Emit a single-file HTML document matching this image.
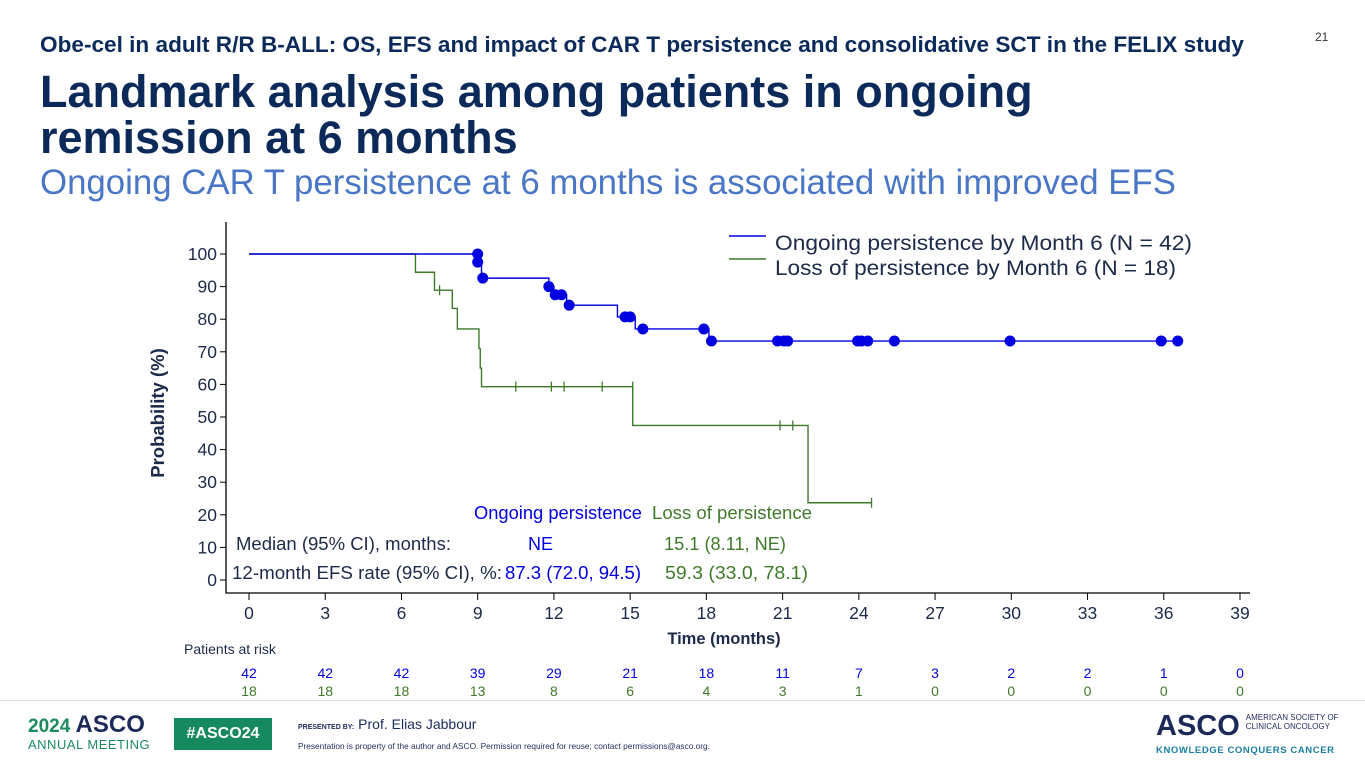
<!DOCTYPE html>
<html><head><meta charset="utf-8">
<style>
body{margin:0;width:1365px;height:768px;overflow:hidden;background:#fff;font-family:"Liberation Sans",sans-serif;position:relative}
.abs{position:absolute;white-space:nowrap}
</style></head><body>
<div class="abs" style="left:40px;top:32px;font-size:22.6px;font-weight:bold;color:#0b2a5a">Obe-cel in adult R/R B-ALL: OS, EFS and impact of CAR T persistence and consolidative SCT in the FELIX study</div>
<div class="abs" style="left:1315px;top:30px;font-size:12px;color:#333">21</div>
<div class="abs" style="left:40px;top:69px;font-size:45px;font-weight:bold;color:#0b2a5a;line-height:46px">Landmark analysis among patients in ongoing<br>remission at 6 months</div>
<div class="abs" style="left:40px;top:163px;font-size:34.8px;color:#4a76c6">Ongoing CAR T persistence at 6 months is associated with improved EFS</div>

<svg id="chart" width="1365" height="700" style="position:absolute;left:0;top:0" font-family="Liberation Sans, sans-serif"></svg>

<div class="abs" style="left:0;top:700px;width:1365px;height:1px;background:#ddd"></div>
<div class="abs" style="left:28px;top:713px;line-height:1">
 <span style="font-size:19px;font-weight:bold;color:#1d8a5e">2024 </span><span style="font-size:24px;font-weight:bold;color:#1c2a5a">ASCO</span><br>
 <span style="font-size:13px;color:#1d8a5e;letter-spacing:0.5px">ANNUAL MEETING</span></div>
<div class="abs" style="left:174px;top:718px;width:98px;height:32px;background:#168a5e;color:#fff;font-weight:bold;font-size:16px;line-height:32px;text-align:center">#ASCO24</div>
<div class="abs" style="left:298px;top:716px;font-size:14px;color:#1c2a5a"><span style="font-size:7px;font-weight:bold">PRESENTED BY:</span> Prof. Elias Jabbour</div>
<div class="abs" style="left:298px;top:741px;font-size:8.3px;color:#1c2a5a">Presentation is property of the author and ASCO. Permission required for reuse; contact permissions@asco.org.</div>
<div class="abs" style="left:1156px;top:712px;line-height:1">
 <span style="font-size:29px;font-weight:bold;color:#1c2a5a">ASCO</span><span style="display:inline-block;font-size:8px;color:#1c2a5a;margin-left:6px;vertical-align:6px;line-height:9px">AMERICAN SOCIETY OF<br>CLINICAL ONCOLOGY</span><br>
 <span style="font-size:9.5px;font-weight:bold;color:#1a7fa0;letter-spacing:0.6px">KNOWLEDGE CONQUERS CANCER</span></div>

<script>
// ---- data ----
const xTicks=[0,3,6,9,12,15,18,21,24,27,30,33,36,39];
const yTicks=[0,10,20,30,40,50,60,70,80,90,100];
const blueSteps=[[0,100],[9.05,97.5],[9.15,92.6],[11.8,90],[12.0,87.5],[12.5,84.3],[14.5,80.7],[15.2,77],[17.9,77],[18.1,73.3],[36.7,73.3]];
const blueCensorT=[9,9,9.2,11.8,12.05,12.3,12.6,14.8,15,15.5,17.9,18.2,20.8,21.05,21.2,23.95,24.1,24.35,25.4,29.95,35.9,36.55];
const blueCensorS=[100,97.5,92.6,90,87.5,87.5,84.3,80.7,80.7,77,77,73.3,73.3,73.3,73.3,73.3,73.3,73.3,73.3,73.3,73.3,73.3];
const greenSteps=[[0,100],[6.55,94.4],[7.3,88.9],[8.0,83.3],[8.2,77],[9.05,71],[9.1,65],[9.15,59.3],[15.1,47.4],[22.0,23.7],[24.5,23.7]];
const greenCensorT=[7.5,10.5,11.9,12.4,13.9,15.1,20.9,21.4,24.5];
const greenCensorS=[88.9,59.3,59.3,59.3,59.3,59.3,47.4,47.4,23.7];
const riskTimes=[0,3,6,9,12,15,18,21,24,27,30,33,36,39];
const riskBlue=[42,42,42,39,29,21,18,11,7,3,2,2,1,0];
const riskGreen=[18,18,18,13,8,6,4,3,1,0,0,0,0,0];

const svg=document.getElementById('chart');
const NS='http://www.w3.org/2000/svg';
const X=t=>249+t*(991/39);
const Y=s=>580-s*3.26;
const BLUE='#0000e0',GREEN='#3f7a2a',NAVY='#1c2a4a';
function mk(tag,a){const e=document.createElementNS(NS,tag);for(const k in a)e.setAttribute(k,a[k]);svg.appendChild(e);return e;}

let f=mk('path',{d:'M226,222 V593 H1250',fill:'none',stroke:'#000','stroke-width':1.3});



yTicks.forEach(v=>{
 let l=mk('line',{x1:220,x2:226,y1:Y(v),y2:Y(v),stroke:'#000'});
 
 
 let t=mk('text',{x:217,y:Y(v)+6,'text-anchor':'end','font-size':17.5,fill:NAVY});
 t.textContent=v;
 
 
});
xTicks.forEach(v=>{
 let l=mk('line',{x1:X(v),x2:X(v),y1:593,y2:600,stroke:'#000'});
 
 
 let t=mk('text',{x:X(v),y:619,'text-anchor':'middle','font-size':17.5,fill:NAVY});
 t.textContent=v;
 
 
});
let yt=mk('text',{x:164,y:413,'text-anchor':'middle','font-size':18.5,'font-weight':'bold',fill:NAVY,transform:'rotate(-90 164 413)'});
yt.textContent='Probability (%)';


let xt=mk('text',{x:724,y:644,'text-anchor':'middle','font-size':16.5,'font-weight':'bold',fill:NAVY});
xt.textContent='Time (months)';



function stepPath(st){let d='M'+X(st[0][0])+','+Y(st[0][1]);for(let i=1;i<st.length;i++){d+=' H'+X(st[i][0])+' V'+Y(st[i][1]);}return d;}
let g=mk('path',{d:stepPath(greenSteps),fill:'none',stroke:GREEN,'stroke-width':1.4});


greenCensorT.forEach((t,i)=>{
 let c=mk('line',{x1:X(t),x2:X(t),y1:Y(greenCensorS[i])-5,y2:Y(greenCensorS[i])+5,stroke:GREEN,'stroke-width':1.3});
 
 
});
let b=mk('path',{d:stepPath(blueSteps),fill:'none',stroke:BLUE,'stroke-width':1.4});


blueCensorT.forEach((t,i)=>{
 let c=mk('circle',{cx:X(t),cy:Y(blueCensorS[i]),r:5.5,fill:BLUE});
 
 
});

let l1=mk('line',{x1:729,x2:766,y1:236,y2:236,stroke:BLUE,'stroke-width':1.5});


let lt1=mk('text',{x:775,y:250,'font-size':21,fill:NAVY,textLength:417,lengthAdjust:'spacingAndGlyphs'});
lt1.textContent='Ongoing persistence by Month 6 (N = 42)';


let l2=mk('line',{x1:729,x2:766,y1:259,y2:259,stroke:GREEN,'stroke-width':1.5});


let lt2=mk('text',{x:775,y:275,'font-size':21,fill:NAVY,textLength:401,lengthAdjust:'spacingAndGlyphs'});
lt2.textContent='Loss of persistence by Month 6 (N = 18)';



const stats=[[474,519,'Ongoing persistence',BLUE,168],[652,519,'Loss of persistence',GREEN,160],[236,550,'Median (95% CI), months:',NAVY,215],[528,550,'NE',BLUE,0],[664,550,'15.1 (8.11, NE)',GREEN,122],[232,579,'12-month EFS rate (95% CI), %:',NAVY,270],[505,579,'87.3 (72.0, 94.5)',BLUE,136],[665,579,'59.3 (33.0, 78.1)',GREEN,143]];
stats.forEach(s=>{
 let attrs={x:s[0],y:s[1],'font-size':18,fill:s[3]};
 if(s[4]>0){attrs.textLength=s[4];attrs.lengthAdjust='spacingAndGlyphs';}
 let t=mk('text',attrs);
 t.textContent=s[2];
 
 
});

let pr=mk('text',{x:184,y:654,'font-size':14,fill:NAVY});
pr.textContent='Patients at risk';


riskTimes.forEach((t,i)=>{
 let a=mk('text',{x:X(t),y:678,'text-anchor':'middle','font-size':14,fill:BLUE});
 a.textContent=riskBlue[i];
 
 
 let c=mk('text',{x:X(t),y:696,'text-anchor':'middle','font-size':14,fill:GREEN});
 c.textContent=riskGreen[i];
 
 
});
</script>
</body></html>
